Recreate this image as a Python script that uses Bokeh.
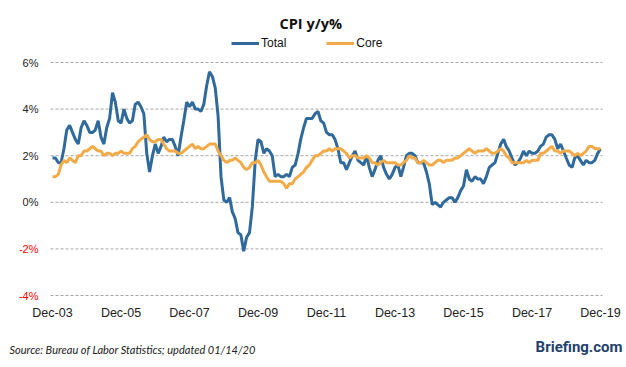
import pandas as pd
from bokeh.plotting import figure
from bokeh.models import (Range1d, FixedTicker, DatetimeTickFormatter, Legend, LegendItem,
                          Label, ColumnDataSource, LinearAxis, DatetimeAxis)
from bokeh.embed import file_html
from bokeh.resources import INLINE

# ---------------- data ----------------
start_month = "2003-12-01"
total = [
    1.9,
    1.9, 1.7, 1.7, 2.3, 3.1, 3.3, 3.0, 2.7, 2.5, 3.2, 3.5, 3.3,
    3.0, 3.0, 3.1, 3.5, 2.8, 2.5, 3.2, 3.6, 4.7, 4.3, 3.5, 3.4,
    4.0, 3.6, 3.4, 3.5, 4.2, 4.3, 4.1, 3.8, 2.1, 1.3, 2.0, 2.5,
    2.1, 2.4, 2.8, 2.6, 2.7, 2.7, 2.4, 2.0, 2.8, 3.5, 4.3, 4.1,
    4.3, 4.0, 4.0, 3.9, 4.2, 5.0, 5.6, 5.4, 4.9, 3.7, 1.1, 0.1,
    0.0, 0.2, -0.4, -0.7, -1.3, -1.4, -2.1, -1.5, -1.3, -0.2, 1.8, 2.7,
    2.6, 2.1, 2.3, 2.2, 2.0, 1.1, 1.2, 1.1, 1.1, 1.2, 1.1, 1.5,
    1.6, 2.1, 2.7, 3.2, 3.6, 3.6, 3.6, 3.8, 3.9, 3.5, 3.4, 3.0,
    2.9, 2.9, 2.7, 2.3, 1.7, 1.7, 1.4, 1.7, 2.0, 2.2, 1.8, 1.7,
    1.6, 2.0, 1.5, 1.1, 1.4, 1.8, 2.0, 1.5, 1.2, 1.0, 1.2, 1.5,
    1.6, 1.1, 1.5, 2.0, 2.1, 2.1, 2.0, 1.7, 1.7, 1.7, 1.3, 0.8,
    -0.1, 0.0, -0.1, -0.2, 0.0, 0.1, 0.2, 0.2, 0.0, 0.2, 0.5, 0.7,
    1.4, 1.0, 0.9, 1.1, 1.0, 1.0, 0.8, 1.1, 1.5, 1.6, 1.7, 2.1,
    2.5, 2.7, 2.4, 2.2, 1.9, 1.6, 1.7, 1.9, 2.2, 2.0, 2.2, 2.1,
    2.1, 2.2, 2.4, 2.5, 2.8, 2.9, 2.9, 2.7, 2.3, 2.5, 2.2, 1.9,
    1.6, 1.5, 1.9, 2.0, 1.8, 1.6, 1.8, 1.7, 1.7, 1.8, 2.1, 2.3,
]
core = [
    1.1,
    1.1, 1.2, 1.6, 1.8, 1.7, 1.9, 1.8, 1.7, 2.0, 2.0, 2.2, 2.2,
    2.3, 2.4, 2.3, 2.2, 2.2, 2.0, 2.1, 2.1, 2.0, 2.1, 2.1, 2.2,
    2.1, 2.1, 2.1, 2.3, 2.4, 2.6, 2.7, 2.8, 2.9, 2.7, 2.6, 2.6,
    2.7, 2.7, 2.5, 2.3, 2.2, 2.2, 2.2, 2.1, 2.1, 2.2, 2.3, 2.4,
    2.5, 2.3, 2.4, 2.3, 2.3, 2.4, 2.5, 2.5, 2.5, 2.2, 2.0, 1.8,
    1.7, 1.8, 1.8, 1.9, 1.8, 1.7, 1.5, 1.4, 1.5, 1.7, 1.7, 1.8,
    1.6, 1.3, 1.1, 0.9, 0.9, 0.9, 0.9, 0.9, 0.8, 0.6, 0.8, 0.8,
    1.0, 1.1, 1.2, 1.3, 1.5, 1.6, 1.8, 2.0, 2.0, 2.1, 2.2, 2.2,
    2.3, 2.2, 2.3, 2.3, 2.3, 2.2, 2.1, 1.9, 2.0, 2.0, 1.9, 1.9,
    1.9, 2.0, 1.9, 1.7, 1.7, 1.6, 1.7, 1.8, 1.7, 1.7, 1.7, 1.7,
    1.6, 1.6, 1.7, 1.8, 2.0, 1.9, 1.9, 1.7, 1.7, 1.8, 1.7, 1.6,
    1.6, 1.7, 1.8, 1.8, 1.7, 1.8, 1.8, 1.8, 1.9, 1.9, 2.0, 2.1,
    2.2, 2.3, 2.2, 2.1, 2.2, 2.2, 2.2, 2.3, 2.2, 2.1, 2.1, 2.2,
    2.3, 2.2, 2.0, 1.9, 1.7, 1.7, 1.7, 1.7, 1.7, 1.8, 1.7, 1.8,
    1.8, 1.8, 2.1, 2.1, 2.2, 2.3, 2.4, 2.2, 2.2, 2.1, 2.2, 2.2,
    2.2, 2.1, 2.0, 2.1, 2.0, 2.1, 2.2, 2.4, 2.4, 2.3, 2.3, 2.3,
]
tick_years = [2003, 2005, 2007, 2009, 2011, 2013, 2015, 2017, 2019]
y_ticks = [-4, -2, 0, 2, 4, 6]
series_names = ["Total", "Core"]
title_text = "CPI y/y%"
source_text = "Source: Bureau of Labor Statistics; updated 01/14/20"
brand_text = "Briefing.com"

# ---------------- layout constants (pixels) ----------------
W, H = 626, 367
PX_PER_PCT = 23.3          # vertical scale
Y6_PX = 62                 # pixel row of the top tick (6%)
FIRST_X_PX, LAST_X_PX = 52, 600

# ---------------- build ----------------
dates = pd.date_range(start_month, periods=len(total), freq="MS")
src = ColumnDataSource(dict(date=dates, total=total, core=core))

def ms(ts):
    return pd.Timestamp(ts).value / 1e6

t0, t1 = ms(dates[0]), ms(dates[-1])
ms_per_px = (t1 - t0) / (LAST_X_PX - FIRST_X_PX)
x_start = t0 - FIRST_X_PX * ms_per_px
x_end = t1 + (W - LAST_X_PX) * ms_per_px
top_tick = max(y_ticks)
y_top = top_tick + Y6_PX / PX_PER_PCT
y_bottom = top_tick - (H - Y6_PX) / PX_PER_PCT

grid_x0 = t0 - 2 * ms_per_px   # grid starts just left of first point
grid_x1 = t1 + 2 * ms_per_px
grid_bottom = min(y_ticks) - 1.0 / PX_PER_PCT

FONT = "Liberation Sans"

p = figure(width=W, height=H, output_backend="svg", toolbar_location=None,
           x_axis_type="datetime", x_axis_location=None, y_axis_location=None,
           x_range=Range1d(x_start, x_end), y_range=Range1d(y_bottom, y_top),
           min_border_left=0, min_border_right=0, min_border_top=0,
           min_border_bottom=0)
p.outline_line_color = None
p.background_fill_color = "white"
p.border_fill_color = "white"
p.grid.visible = False

# dashed horizontal grid lines at the tick values
gsrc = ColumnDataSource(dict(x0=[grid_x0] * len(y_ticks), x1=[grid_x1] * len(y_ticks),
                             y=y_ticks))
p.segment(x0="x0", y0="y", x1="x1", y1="y", source=gsrc, line_color="#a6a6a6",
          line_dash="3 2", line_width=1)

def style_axis(ax, color, size, standoff):
    ax.axis_line_color = None
    ax.major_tick_line_color = None
    ax.minor_tick_line_color = None
    ax.major_tick_out = 0
    ax.major_tick_in = 0
    ax.major_label_standoff = standoff
    ax.major_label_text_font = FONT
    ax.major_label_text_font_size = size
    ax.major_label_text_color = color

pos_axis = LinearAxis(fixed_location=grid_x0,
                      ticker=FixedTicker(ticks=[t for t in y_ticks if t >= 0]),
                      major_label_overrides={t: f"{t}%" for t in y_ticks if t >= 0})
style_axis(pos_axis, "#222222", "11px", 12)
p.add_layout(pos_axis, "left")

neg_axis = LinearAxis(fixed_location=grid_x0,
                      ticker=FixedTicker(ticks=[t for t in y_ticks if t < 0]),
                      major_label_overrides={t: f"{t}%" for t in y_ticks if t < 0})
style_axis(neg_axis, "#ff0000", "11px", 12)
p.add_layout(neg_axis, "left")

fmt = "%b-%y"
x_axis = DatetimeAxis(fixed_location=grid_bottom,
                      ticker=FixedTicker(ticks=[ms(f"{y}-12-01") for y in tick_years]),
                      formatter=DatetimeTickFormatter(days=fmt, months=fmt, years=fmt,
                                                      hours=fmt, minutes=fmt, seconds=fmt,
                                                      milliseconds=fmt, microseconds=fmt,
                                                      minsec=fmt, hourmin=fmt))
style_axis(x_axis, "#222222", "12.5px", 9)
p.add_layout(x_axis, "below")

# lines
r_total = p.line("date", "total", source=src, line_color="#2f6a9b", line_width=3)
r_core = p.line("date", "core", source=src, line_color="#f2ab48", line_width=3)

legend = Legend(items=[LegendItem(label=series_names[0], renderers=[r_total]),
                       LegendItem(label=series_names[1], renderers=[r_core])],
                orientation="horizontal", location=(231, H - 50),
                border_line_color=None, background_fill_alpha=0,
                padding=0, margin=0, spacing=40, glyph_width=28, glyph_height=14,
                label_height=14, label_standoff=2,
                label_text_font=FONT, label_text_font_size="12px",
                label_text_color="#111111")
p.add_layout(legend, "center")

p.add_layout(Label(x=279, y=H - 23, x_units="screen", y_units="screen", text=title_text,
                   text_align="left", text_baseline="middle", text_font="Open Sans",
                   text_font_style="bold", text_font_size="14.5px", text_color="#111111"))
p.add_layout(Label(x=9, y=H - 349, x_units="screen", y_units="screen", text=source_text,
                   text_align="left", text_baseline="middle", text_font="Lato",
                   text_font_style="italic", text_font_size="11px", text_color="#222222"))
p.add_layout(Label(x=622, y=H - 346, x_units="screen", y_units="screen", text=brand_text,
                   text_align="right", text_baseline="middle", text_font="Roboto",
                   text_font_style="bold", text_font_size="15px", text_color="#233f6b"))

open("out.html", "w").write(file_html(p, INLINE))
